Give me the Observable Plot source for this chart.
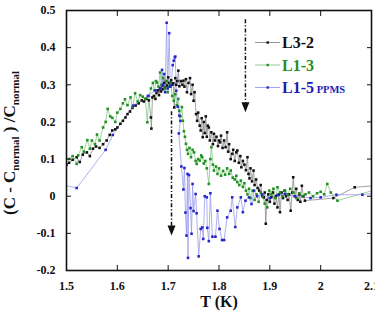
<!DOCTYPE html>
<html>
<head>
<meta charset="utf-8">
<script src="https://cdn.jsdelivr.net/npm/d3@7"></script>
<script src="https://cdn.jsdelivr.net/npm/@observablehq/plot@0.6"></script>
<style>
  html, body { margin: 0; padding: 0; background: #fff; }
</style>
</head>
<body>
<div id="chart"></div>
<script>
// Relative specific-heat excess (C - Cnormal)/Cnormal versus temperature, three samples.

// Sample L3-2 (black)
const l32T = [1.500,1.505,1.512,1.520,1.526,1.532,1.540,1.546,1.552,1.558,1.565,1.572,1.579,1.585,1.590,1.596,1.600,1.606,1.611,1.616,1.620,1.625,1.630,1.636,1.642,1.648,1.652,1.657,1.662,1.666,1.667,1.669,1.672,1.675,1.677,1.680,1.682,1.684,1.686,1.688,1.690,1.692,1.694,1.696,1.698,1.700,1.702,1.704,1.706,1.708,1.710,1.712,1.714,1.716,1.718,1.720,1.722,1.725,1.728,1.730,1.732,1.735,1.737,1.740,1.743,1.745,1.748,1.750,1.752,1.755,1.757,1.759,1.762,1.764,1.766,1.768,1.770,1.772,1.774,1.776,1.778,1.780,1.782,1.785,1.788,1.790,1.792,1.795,1.798,1.800,1.802,1.804,1.807,1.810,1.813,1.816,1.818,1.820,1.823,1.826,1.828,1.831,1.834,1.836,1.839,1.842,1.844,1.847,1.850,1.853,1.856,1.858,1.860,1.862,1.865,1.868,1.870,1.873,1.876,1.879,1.882,1.885,1.888,1.890,1.892,1.894,1.897,1.900,1.903,1.906,1.909,1.912,1.915,1.918,1.920,1.923,1.926,1.929,1.932,1.935,1.938,1.941,1.944,1.946,1.949,1.952,1.955,1.958,1.960,1.963,1.966,1.969,2.025,2.067,2.140];
const l32V = [0.085,0.090,0.098,0.105,0.092,0.112,0.118,0.108,0.128,0.134,0.130,0.140,0.150,0.165,0.177,0.180,0.185,0.195,0.203,0.212,0.221,0.228,0.238,0.244,0.250,0.258,0.255,0.262,0.258,0.212,0.182,0.266,0.270,0.262,0.278,0.285,0.272,0.290,0.282,0.298,0.288,0.305,0.292,0.310,0.298,0.320,0.305,0.296,0.312,0.300,0.304,0.239,0.318,0.300,0.310,0.338,0.296,0.310,0.300,0.311,0.295,0.315,0.280,0.305,0.318,0.275,0.300,0.257,0.280,0.221,0.203,0.225,0.190,0.177,0.210,0.159,0.200,0.170,0.215,0.160,0.190,0.185,0.150,0.172,0.140,0.168,0.150,0.160,0.135,0.150,0.145,0.163,0.130,0.150,0.132,0.172,0.120,0.140,0.100,0.114,0.125,0.095,0.118,0.123,0.090,0.108,0.078,0.095,0.085,0.070,0.105,0.060,0.048,0.075,0.040,0.069,0.030,0.045,0.022,0.015,0.030,0.000,-0.003,0.010,-0.074,-0.010,0.005,-0.015,-0.003,0.010,-0.020,0.000,-0.030,0.005,-0.043,0.010,-0.005,0.015,0.000,-0.010,0.005,-0.039,0.010,0.051,0.000,0.020,-0.010,0.005,-0.015,0.028,0.000,-0.012,-0.005,0.024,0.032];

// Sample L1-3 (green)
const l13T = [1.497,1.505,1.512,1.520,1.523,1.530,1.534,1.541,1.546,1.550,1.556,1.560,1.565,1.572,1.577,1.581,1.586,1.590,1.596,1.600,1.606,1.611,1.615,1.620,1.626,1.630,1.635,1.640,1.645,1.650,1.655,1.659,1.662,1.666,1.670,1.673,1.676,1.678,1.681,1.684,1.687,1.690,1.693,1.696,1.699,1.702,1.705,1.708,1.711,1.714,1.717,1.720,1.722,1.724,1.727,1.729,1.731,1.733,1.735,1.737,1.739,1.742,1.745,1.748,1.751,1.754,1.756,1.759,1.762,1.765,1.767,1.770,1.773,1.776,1.780,1.783,1.785,1.788,1.790,1.794,1.797,1.800,1.804,1.808,1.812,1.816,1.820,1.823,1.827,1.831,1.834,1.836,1.840,1.843,1.847,1.850,1.853,1.856,1.859,1.862,1.866,1.870,1.874,1.878,1.882,1.886,1.890,1.895,1.899,1.903,1.907,1.911,1.915,1.920,1.925,1.930,1.935,1.940,1.946,1.952,1.958,1.964,1.970,1.977,1.985,1.993,2.000,2.007,2.013,2.020,2.033,2.140];
const l13V = [0.098,0.100,0.108,0.087,0.110,0.132,0.120,0.151,0.128,0.150,0.140,0.166,0.150,0.185,0.200,0.235,0.215,0.211,0.200,0.225,0.235,0.250,0.261,0.245,0.266,0.240,0.277,0.255,0.272,0.268,0.262,0.199,0.270,0.290,0.305,0.285,0.310,0.306,0.295,0.333,0.300,0.318,0.290,0.310,0.280,0.295,0.305,0.270,0.257,0.275,0.245,0.262,0.230,0.215,0.240,0.203,0.175,0.160,0.141,0.125,0.114,0.130,0.105,0.125,0.118,0.095,0.087,0.100,0.096,0.110,0.105,0.088,0.095,0.075,0.033,0.100,0.132,0.085,0.069,0.080,0.060,0.075,0.055,0.068,0.058,0.075,0.060,0.069,0.050,0.045,0.055,0.038,0.030,0.042,0.025,0.035,0.015,0.005,0.020,-0.005,0.015,-0.010,0.005,-0.015,0.010,0.000,-0.020,-0.030,0.015,0.005,0.020,-0.005,0.024,0.010,0.000,0.015,0.005,0.020,0.010,-0.005,0.008,0.000,0.005,0.010,0.000,0.008,0.012,0.005,0.033,0.010,-0.012,0.030];

// Sample L1-5, PPMS run (blue)
const l15T = [1.495,1.520,1.577,1.591,1.631,1.660,1.675,1.685,1.688,1.690,1.692,1.694,1.697,1.699,1.702,1.704,1.706,1.709,1.711,1.713,1.714,1.716,1.719,1.722,1.724,1.721,1.726,1.730,1.732,1.734,1.736,1.738,1.739,1.741,1.744,1.746,1.748,1.750,1.754,1.756,1.760,1.764,1.767,1.769,1.772,1.776,1.777,1.780,1.783,1.787,1.793,1.797,1.801,1.806,1.810,1.816,1.823,1.826,1.832,1.836,1.843,1.847,1.852,1.859,1.864,1.869,1.875,1.885,1.900,1.915,1.930,1.950,1.980,2.000,2.031,2.082,2.140];
const l15V = [0.030,0.022,0.125,0.165,0.244,0.270,0.285,0.290,0.340,0.300,0.329,0.280,0.467,0.290,0.439,0.295,0.300,0.353,0.365,0.374,0.376,0.284,0.241,0.217,0.203,0.169,0.080,0.018,0.076,-0.044,-0.106,0.060,-0.166,0.057,-0.032,-0.101,0.033,-0.040,0.006,-0.046,-0.162,-0.088,-0.084,-0.115,0.000,-0.003,-0.085,-0.121,0.008,-0.109,-0.109,-0.039,-0.088,-0.118,-0.118,-0.057,-0.039,-0.003,-0.083,-0.030,-0.003,-0.043,-0.012,-0.003,-0.021,0.015,0.000,0.005,-0.005,0.003,0.006,0.000,-0.005,-0.003,0.004,0.004,0.015];

// Series names and colours
const seriesNames = ["L3-2", "L1-3", "L1-5"];
const markColors = ["#111111", "#1f8f1f", "#2626cc"];
const lineColors = ["#8a8a8a", "#86c686", "#9a9af0"];
const textColors = ["#111111", "#1f8f1f", "#1c1cb4"];

// Axis ticks
const xTicks = [1.5, 1.6, 1.7, 1.8, 1.9, 2.0, 2.1];
const yTicks = [-0.2, -0.1, 0, 0.1, 0.2, 0.3, 0.4, 0.5];

// Dash-dot arrows marking the two transitions
const arrowX = [1.852, 1.7066];
const arrowTop = [0.451, 0.203];
const arrowTip = [0.226, -0.106];

const serif = "'Liberation Serif', 'Times New Roman', serif";
const zip = (T, V) => T.map((t, i) => ({T: t, v: V[i]}));
const series = [zip(l32T, l32V), zip(l13T, l13V), zip(l15T, l15V)];
const arrows = arrowX.map((x, i) => ({x, top: arrowTop[i], tip: arrowTip[i]}));
const fmt = d => String(+d.toFixed(1));

// Narrow filled arrowhead whose tip sits on the anchor point
const arrowHead = {
  draw(ctx) {
    ctx.moveTo(-4, -10);
    ctx.lineTo(4, -10);
    ctx.lineTo(0, 0);
    ctx.closePath();
  }
};

const chart = Plot.plot({
  width: 375,
  height: 316,
  marginLeft: 66,
  marginRight: 4,
  marginTop: 10,
  marginBottom: 46,
  style: {fontFamily: serif, fontWeight: "bold", fontSize: "12px", color: "#111", background: "#fff"},
  x: {domain: [1.5, 2.1]},
  y: {domain: [-0.2, 0.5]},
  marks: [
    ...series.map((d, i) => Plot.line(d, {x: "T", y: "v", stroke: lineColors[i], strokeWidth: 0.8, clip: true})),
    ...series.map((d, i) => Plot.dot(d, {x: "T", y: "v", symbol: "square", r: 1.45, fill: markColors[i], stroke: "none", clip: true})),
    Plot.ruleX(arrows, {x: "x", y1: "top", y2: "tip", dy: -9, stroke: "#111", strokeWidth: 1.5, strokeDasharray: "4,2,1.2,2"}),
    Plot.dot(arrows, {x: "x", y: "tip", symbol: arrowHead, fill: "#111", stroke: "none"}),
    Plot.frame({stroke: "#111", strokeWidth: 1.6}),
    Plot.axisX(xTicks, {anchor: "bottom", tickSize: -5, tickPadding: 16, tickFormat: fmt, label: null}),
    Plot.axisX(xTicks, {anchor: "top", tickSize: -5, fill: "none", label: null}),
    Plot.axisY(yTicks, {anchor: "left", tickSize: -5, tickPadding: 16, tickFormat: fmt, label: null}),
    Plot.axisY(yTicks, {anchor: "right", tickSize: -5, fill: "none", label: null}),
    Plot.text(["T (K)"], {frameAnchor: "bottom", dy: 36, fontSize: 16, fontWeight: "bold", fill: "#111"})
  ]
});

document.getElementById("chart").appendChild(chart);
const svg = d3.select(chart);

// Y-axis title with subscripts
const yl = svg.append("text")
  .attr("transform", "translate(15,143) rotate(-90)")
  .attr("text-anchor", "middle")
  .attr("font-family", serif)
  .attr("font-weight", "bold")
  .attr("font-size", 17)
  .attr("fill", "#111");
yl.append("tspan").text("(C - C");
yl.append("tspan").attr("font-size", 11).attr("dy", 4).text("normal");
yl.append("tspan").attr("dy", -4).text(" ) /C");
yl.append("tspan").attr("font-size", 11).attr("dy", 4).text("normal");

// Legend inside the frame
const leg = svg.append("g")
  .attr("font-family", serif)
  .attr("font-weight", "bold")
  .attr("text-anchor", "start");
seriesNames.forEach((name, i) => {
  const y = 42.5 + i * 22.5;
  leg.append("line")
    .attr("x1", 255).attr("x2", 280).attr("y1", y).attr("y2", y)
    .attr("stroke", lineColors[i]).attr("stroke-width", 0.9);
  leg.append("rect")
    .attr("x", 266.5).attr("y", y - 1.2).attr("width", 2.4).attr("height", 2.4)
    .attr("fill", markColors[i]);
  const t = leg.append("text")
    .attr("x", 282).attr("y", y).attr("dy", "0.35em")
    .attr("font-size", 16).attr("fill", textColors[i])
    .text(name);
  if (i === 2) t.append("tspan").attr("font-size", 10.5).text(" PPMS");
});
</script>
</body>
</html>
